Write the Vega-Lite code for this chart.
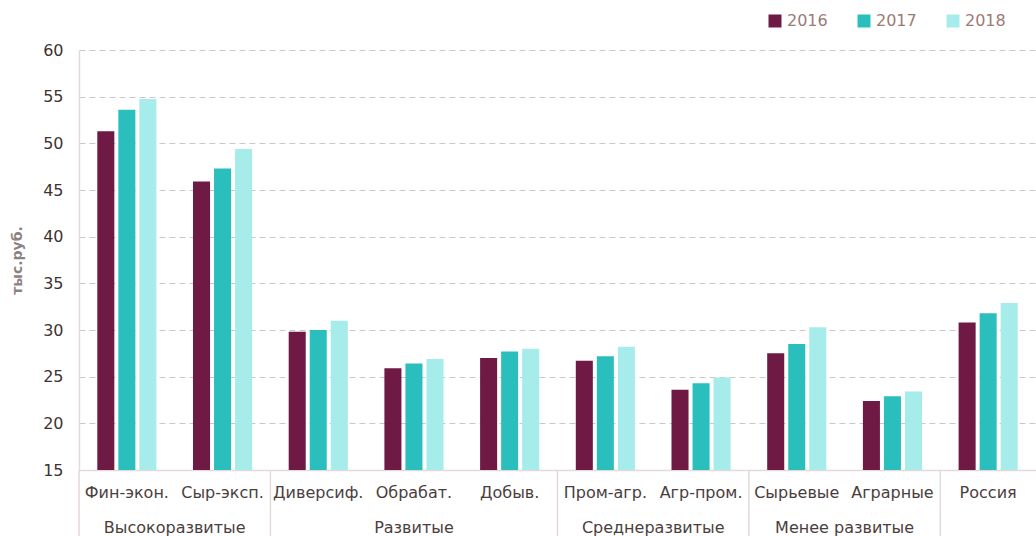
{
  "$schema": "https://vega.github.io/schema/vega-lite/v6.json",
  "width": 957,
  "height": 420,
  "autosize": "none",
  "padding": {"left": 79, "top": 50, "right": 0, "bottom": 66},
  "background": "white",
  "config": {
    "view": {"stroke": null},
    "font": "DejaVu Sans"
  },
  "datasets": {
    "bars": [
      {"cat": "Фин-экон.", "year": "2016", "value": 51.3},
      {"cat": "Фин-экон.", "year": "2017", "value": 53.6},
      {"cat": "Фин-экон.", "year": "2018", "value": 54.75},
      {"cat": "Сыр-эксп.", "year": "2016", "value": 45.9},
      {"cat": "Сыр-эксп.", "year": "2017", "value": 47.3},
      {"cat": "Сыр-эксп.", "year": "2018", "value": 49.4},
      {"cat": "Диверсиф.", "year": "2016", "value": 29.8},
      {"cat": "Диверсиф.", "year": "2017", "value": 30.0},
      {"cat": "Диверсиф.", "year": "2018", "value": 31.0},
      {"cat": "Обрабат.", "year": "2016", "value": 25.9},
      {"cat": "Обрабат.", "year": "2017", "value": 26.4},
      {"cat": "Обрабат.", "year": "2018", "value": 26.9},
      {"cat": "Добыв.", "year": "2016", "value": 27.0},
      {"cat": "Добыв.", "year": "2017", "value": 27.7},
      {"cat": "Добыв.", "year": "2018", "value": 28.0},
      {"cat": "Пром-агр.", "year": "2016", "value": 26.7},
      {"cat": "Пром-агр.", "year": "2017", "value": 27.2},
      {"cat": "Пром-агр.", "year": "2018", "value": 28.2},
      {"cat": "Агр-пром.", "year": "2016", "value": 23.6},
      {"cat": "Агр-пром.", "year": "2017", "value": 24.3},
      {"cat": "Агр-пром.", "year": "2018", "value": 24.9},
      {"cat": "Сырьевые", "year": "2016", "value": 27.5},
      {"cat": "Сырьевые", "year": "2017", "value": 28.5},
      {"cat": "Сырьевые", "year": "2018", "value": 30.3},
      {"cat": "Аграрные", "year": "2016", "value": 22.4},
      {"cat": "Аграрные", "year": "2017", "value": 22.9},
      {"cat": "Аграрные", "year": "2018", "value": 23.4},
      {"cat": "Россия", "year": "2016", "value": 30.8},
      {"cat": "Россия", "year": "2017", "value": 31.8},
      {"cat": "Россия", "year": "2018", "value": 32.9}
    ],
    "seps": [
      {"cat": "Фин-экон."},
      {"cat": "Диверсиф."},
      {"cat": "Пром-агр."},
      {"cat": "Сырьевые"},
      {"cat": "Россия"}
    ],
    "groupsEdge": [
      {"cat": "Сыр-эксп.", "label": "Высокоразвитые"},
      {"cat": "Агр-пром.", "label": "Среднеразвитые"},
      {"cat": "Аграрные", "label": "Менее развитые"}
    ],
    "groupsMid": [
      {"cat": "Обрабат.", "label": "Развитые"}
    ]
  },
  "layer": [
    {
      "data": {"name": "bars"},
      "mark": {"type": "bar", "clip": true},
      "encoding": {
        "x": {
          "field": "cat", "type": "nominal", "sort": null,
          "scale": {"domain": ["Фин-экон.", "Сыр-эксп.", "Диверсиф.", "Обрабат.", "Добыв.", "Пром-агр.", "Агр-пром.", "Сырьевые", "Аграрные", "Россия"], "paddingInner": 0, "paddingOuter": 0},
          "axis": {
            "title": null, "labelAngle": 0, "labelFontSize": 16, "labelColor": "#4a3e3e",
            "tickSize": 0, "labelPadding": 14, "domainColor": "#e3d9d9", "domainWidth": 1.5,
            "grid": false
          }
        },
        "xOffset": {
          "field": "year", "type": "nominal",
          "scale": {"paddingInner": 0.19, "paddingOuter": 0.87}
        },
        "y": {
          "field": "value", "type": "quantitative",
          "scale": {"domain": [15, 60], "nice": false, "zero": false},
          "axis": {
            "title": "тыс.руб.", "titleFontSize": 14, "titleFontWeight": "bold", "titleColor": "#8c8282",
            "titlePadding": 18,
            "values": [15, 20, 25, 30, 35, 40, 45, 50, 55, 60],
            "labelFontSize": 16, "labelColor": "#3d3333", "labelPadding": 16, "tickSize": 0,
            "domainColor": "#e3d9d9", "domainWidth": 1.5,
            "grid": true, "gridColor": "#c8c8c8", "gridDash": [6, 4], "gridWidth": 1
          }
        },
        "color": {
          "field": "year", "type": "nominal",
          "scale": {"domain": ["2016", "2017", "2018"], "range": ["#6e1a45", "#2abfbd", "#a5ecea"]},
          "legend": {
            "title": null, "orient": "none", "direction": "horizontal",
            "legendX": 688, "legendY": -37,
            "symbolType": "square", "symbolSize": 169, "symbolStrokeWidth": 0,
            "labelFontSize": 16, "labelColor": "#9b7b76", "labelOffset": 4,
            "columnPadding": 28
          }
        }
      }
    },
    {
      "data": {"name": "seps"},
      "mark": {"type": "rule", "color": "#e3d9d9", "strokeWidth": 1.5, "clip": false},
      "encoding": {
        "x": {"field": "cat", "type": "nominal", "bandPosition": 0},
        "y": {"datum": 15},
        "y2": {"datum": 7.5}
      }
    },
    {
      "data": {"name": "groupsEdge"},
      "mark": {"type": "text", "fontSize": 16, "color": "#4a3e3e", "baseline": "middle", "align": "center"},
      "encoding": {
        "x": {"field": "cat", "type": "nominal", "bandPosition": 0},
        "y": {"datum": 8.8},
        "text": {"field": "label"}
      }
    },
    {
      "data": {"name": "groupsMid"},
      "mark": {"type": "text", "fontSize": 16, "color": "#4a3e3e", "baseline": "middle", "align": "center"},
      "encoding": {
        "x": {"field": "cat", "type": "nominal", "bandPosition": 0.5},
        "y": {"datum": 8.8},
        "text": {"field": "label"}
      }
    }
  ]
}
